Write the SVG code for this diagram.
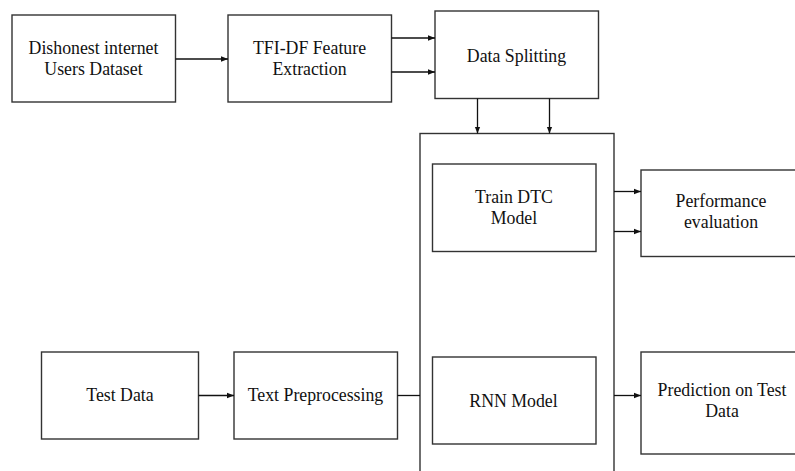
<svg xmlns="http://www.w3.org/2000/svg" width="795" height="471" viewBox="0 0 795 471">
<style>
.box{fill:#fff;stroke:#333;stroke-width:1.4}
text{font-family:'Liberation Serif','Times New Roman',Times,'DejaVu Serif',serif;font-size:17.8px;fill:#111;text-anchor:middle}
.c{fill:none;stroke:#111;stroke-width:1.3}
</style>
<defs>
<marker id="ah" viewBox="0 0 10 10" refX="10" refY="5" markerWidth="7" markerHeight="7" markerUnits="userSpaceOnUse" orient="auto">
<path d="M0,1 L10,5 L0,9 Z" fill="#111"/>
</marker>
</defs>
<rect width="795" height="471" fill="#fff"/>
<g id="dataset"><rect class="box" x="12" y="15" width="163.5" height="87"/>
<text x="93.5" y="53.5">Dishonest internet</text><text x="93.5" y="75">Users Dataset</text></g>
<g id="tfidf"><rect class="box" x="228" y="15" width="163.5" height="87"/>
<text x="309.5" y="53.5">TFI-DF Feature</text><text x="309.5" y="75">Extraction</text></g>
<g id="split"><rect class="box" x="435" y="11" width="163.5" height="87.5"/>
<text x="516.5" y="62">Data Splitting</text></g>
<g id="container"><rect class="box" x="420" y="133.5" width="194" height="350"/></g>
<g id="train"><rect class="box" x="432.5" y="164" width="163.5" height="87.5"/>
<text x="514" y="203">Train DTC</text><text x="514" y="224">Model</text></g>
<g id="rnn"><rect class="box" x="432.5" y="357" width="163.5" height="87"/>
<text x="513.5" y="407">RNN Model</text></g>
<g id="perf"><rect class="box" x="641" y="170" width="170" height="86.5"/>
<text x="721" y="207">Performance</text><text x="721" y="228">evaluation</text></g>
<g id="pred"><rect class="box" x="641" y="352" width="170" height="102"/>
<text x="722" y="396">Prediction on Test</text><text x="722" y="417">Data</text></g>
<g id="testdata"><rect class="box" x="41.5" y="352" width="157" height="87"/>
<text x="120" y="401">Test Data</text></g>
<g id="preproc"><rect class="box" x="234" y="352" width="163.5" height="87"/>
<text x="315.5" y="401">Text Preprocessing</text></g>
<g id="connectors">
<line class="c" x1="175.5" y1="59" x2="228" y2="59" marker-end="url(#ah)"/>
<line class="c" x1="391.5" y1="38" x2="435" y2="38" marker-end="url(#ah)"/>
<line class="c" x1="391.5" y1="72" x2="435" y2="72" marker-end="url(#ah)"/>
<line class="c" x1="477.5" y1="98.5" x2="477.5" y2="133.5" marker-end="url(#ah)"/>
<line class="c" x1="549.5" y1="98.5" x2="549.5" y2="133.5" marker-end="url(#ah)"/>
<line class="c" x1="614" y1="191.5" x2="641" y2="191.5" marker-end="url(#ah)"/>
<line class="c" x1="614" y1="231.5" x2="641" y2="231.5" marker-end="url(#ah)"/>
<line class="c" x1="198.5" y1="395.5" x2="234" y2="395.5" marker-end="url(#ah)"/>
<line class="c" x1="397.5" y1="395.5" x2="420" y2="395.5"/>
<line class="c" x1="614" y1="395.5" x2="641" y2="395.5" marker-end="url(#ah)"/>
</g>
</svg>
